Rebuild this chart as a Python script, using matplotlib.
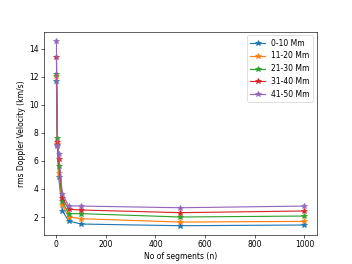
import matplotlib
matplotlib.use("Agg")
import matplotlib.pyplot as plt

segments = [1, 5, 10, 25, 50, 100, 500, 1000]
labels = ["0-10 Mm", "11-20 Mm", "21-30 Mm", "31-40 Mm", "41-50 Mm"]
v_0_10 = [11.68, 7.10, 4.85, 2.45, 1.72, 1.50, 1.38, 1.43]
v_11_20 = [12.01, 7.20, 5.15, 2.85, 2.02, 1.88, 1.64, 1.69]
v_21_30 = [12.17, 7.60, 5.65, 3.11, 2.24, 2.24, 2.00, 2.07]
v_31_40 = [13.41, 7.34, 6.15, 3.38, 2.55, 2.50, 2.31, 2.43]
v_41_50 = [14.54, 7.08, 6.46, 3.64, 2.80, 2.78, 2.66, 2.78]
series = [v_0_10, v_11_20, v_21_30, v_31_40, v_41_50]

fig, ax = plt.subplots(figsize=(6.4, 4.8), dpi=55)
for lab, vals in zip(labels, series):
    ax.plot(segments, vals, marker="*", markersize=8, label=lab)
ax.set_xlabel("No of segments (n)")
ax.set_ylabel("rms Doppler Velocity (km/s)")
ax.legend(loc="upper right")
fig.savefig("out.png", dpi=55)
